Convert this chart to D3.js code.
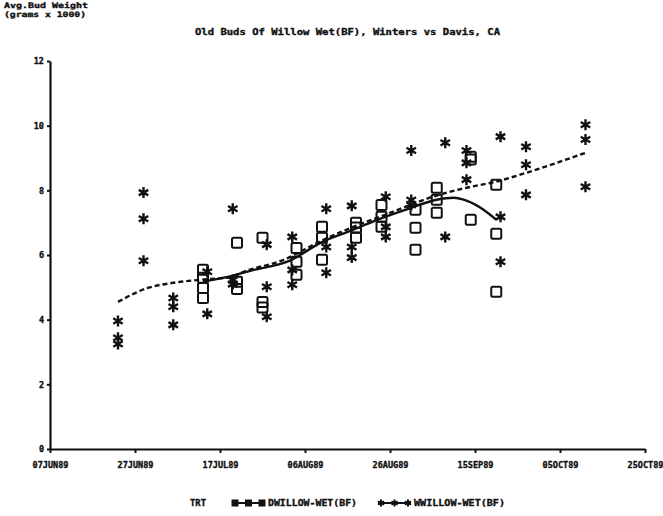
<!DOCTYPE html>
<html>
<head>
<meta charset="utf-8">
<script src="https://cdn.jsdelivr.net/npm/d3@7"></script>
<style>
  body { margin: 0; background: #fff; }
  text { font-family: "DejaVu Sans Mono", monospace; font-weight: bold; fill: #111; stroke: #111; stroke-width: 0.35; }
</style>
</head>
<body>
<svg id="chart" width="663" height="516"></svg>
<script>
// Tick labels
const xTickLabels = ["07JUN89", "27JUN89", "17JUL89", "06AUG89", "26AUG89", "15SEP89", "05OCT89", "25OCT89"];
const yTicks = [0, 2, 4, 6, 8, 10, 12];

// Davis observations (squares)
const davisDates = [
  "1989-07-13", "1989-07-13", "1989-07-13", "1989-07-13",
  "1989-07-21", "1989-07-21", "1989-07-21",
  "1989-07-27", "1989-07-27", "1989-07-27",
  "1989-08-04", "1989-08-04", "1989-08-04",
  "1989-08-10", "1989-08-10", "1989-08-10",
  "1989-08-18", "1989-08-18", "1989-08-18",
  "1989-08-24", "1989-08-24", "1989-08-24",
  "1989-09-01", "1989-09-01", "1989-09-01",
  "1989-09-06", "1989-09-06", "1989-09-06",
  "1989-09-14", "1989-09-14", "1989-09-14",
  "1989-09-20", "1989-09-20", "1989-09-20"
];
const davisWeights = [
  5.54, 5.30, 4.98, 4.67,
  6.38, 5.17, 4.95,
  6.53, 4.55, 4.38,
  6.22, 5.79, 5.39,
  6.87, 6.53, 5.85,
  7.00, 6.85, 6.53,
  7.55, 7.18, 6.87,
  7.40, 6.84, 6.16,
  8.08, 7.71, 7.31,
  9.04, 8.95, 7.09,
  8.17, 6.66, 4.86
];

// Winters observations (stars)
const wintersDates = [
  "1989-06-23", "1989-06-23", "1989-06-23",
  "1989-06-29", "1989-06-29", "1989-06-29",
  "1989-07-06", "1989-07-06", "1989-07-06",
  "1989-07-14", "1989-07-14",
  "1989-07-20", "1989-07-20", "1989-07-20",
  "1989-07-28", "1989-07-28", "1989-07-28",
  "1989-08-03", "1989-08-03", "1989-08-03",
  "1989-08-11", "1989-08-11", "1989-08-11",
  "1989-08-17", "1989-08-17", "1989-08-17",
  "1989-08-25", "1989-08-25", "1989-08-25",
  "1989-08-31", "1989-08-31", "1989-08-31",
  "1989-09-08", "1989-09-08",
  "1989-09-13", "1989-09-13", "1989-09-13",
  "1989-09-21", "1989-09-21", "1989-09-21",
  "1989-09-27", "1989-09-27", "1989-09-27",
  "1989-10-11", "1989-10-11", "1989-10-11"
];
const wintersWeights = [
  3.96, 3.44, 3.25,
  7.93, 7.12, 5.82,
  4.67, 4.40, 3.84,
  5.48, 4.18,
  7.43, 5.23, 5.10,
  6.32, 5.02, 4.09,
  6.56, 5.54, 5.08,
  7.43, 6.25, 5.45,
  7.52, 6.25, 5.92,
  7.80, 6.87, 6.56,
  9.23, 7.70, 7.55,
  9.47, 6.56,
  9.23, 8.85, 8.33,
  9.66, 7.18, 5.79,
  9.35, 8.79, 7.86,
  10.03, 9.57, 8.11
];

// Smoothed curves
const davisFitDates = ["1989-07-13", "1989-07-18", "1989-07-25", "1989-08-02", "1989-08-10", "1989-08-17",
  "1989-08-23", "1989-08-31", "1989-09-06", "1989-09-10", "1989-09-13", "1989-09-17", "1989-09-20"];
const davisFit = [5.18, 5.30, 5.54, 5.80, 6.40, 6.76, 7.09, 7.46, 7.71, 7.77, 7.68, 7.40, 7.09];
const wintersFitDates = ["1989-06-23", "1989-06-30", "1989-07-06", "1989-07-12", "1989-07-20", "1989-07-22",
  "1989-08-01", "1989-08-10", "1989-08-17", "1989-08-24", "1989-09-06", "1989-09-13", "1989-09-20",
  "1989-09-27", "1989-10-11"];
const wintersFit = [4.55, 4.98, 5.14, 5.23, 5.33, 5.45, 5.85, 6.45, 6.85, 7.20, 7.84, 8.08, 8.27, 8.54, 9.16];

const parse = d3.timeParse("%Y-%m-%d");
const parseTick = d3.timeParse("%d%b%y");

const svg = d3.select("#chart");

const x = d3.scaleTime()
    .domain([parse("1989-06-07"), parse("1989-10-25")])
    .range([50, 645]);

const y = d3.scaleLinear()
    .domain([0, 12])
    .range([449, 61]);

// Titles
svg.append("text").attr("x", 4).attr("y", 8)
    .attr("font-size", 7.5).attr("textLength", 84).attr("lengthAdjust", "spacingAndGlyphs")
    .text("Avg.Bud Weight");
svg.append("text").attr("x", 4).attr("y", 17)
    .attr("font-size", 7.5).attr("textLength", 82).attr("lengthAdjust", "spacingAndGlyphs")
    .text("(grams x 1000)");
svg.append("text").attr("x", 195).attr("y", 35)
    .attr("font-size", 8.5).attr("textLength", 305).attr("lengthAdjust", "spacingAndGlyphs")
    .text("Old Buds Of Willow Wet(BF), Winters vs Davis, CA");

// Axes
const xAxis = svg.append("g")
    .attr("transform", `translate(0,${y(0)})`)
    .call(d3.axisBottom(x)
        .tickValues(xTickLabels.map(parseTick))
        .tickFormat((d, i) => xTickLabels[i])
        .tickSizeInner(4).tickSizeOuter(0));
xAxis.select(".domain").attr("stroke", "#111").attr("stroke-width", 2.2);
xAxis.selectAll(".tick line").attr("stroke", "#111").attr("stroke-width", 2);
xAxis.selectAll(".tick text")
    .attr("y", 13)
    .attr("font-size", 8.5).attr("font-family", null)
    .attr("textLength", 36).attr("lengthAdjust", "spacingAndGlyphs");

const yAxis = svg.append("g")
    .attr("transform", `translate(${x.range()[0]},0)`)
    .call(d3.axisLeft(y).tickValues(yTicks).tickSizeInner(3).tickSizeOuter(0));
yAxis.select(".domain").attr("stroke", "#111").attr("stroke-width", 2.2);
yAxis.selectAll(".tick line").attr("stroke", "#111").attr("stroke-width", 2);
yAxis.selectAll(".tick text")
    .attr("x", -6)
    .attr("font-size", 8.5).attr("font-family", null);

// Smooth curves
const line = d3.line()
    .x(d => x(d[0]))
    .y(d => y(d[1]))
    .curve(d3.curveMonotoneX);

svg.append("path")
    .datum(davisFitDates.map((d, i) => [parse(d), davisFit[i]]))
    .attr("fill", "none").attr("stroke", "#111").attr("stroke-width", 2.4)
    .attr("d", line);

svg.append("path")
    .datum(wintersFitDates.map((d, i) => [parse(d), wintersFit[i]]))
    .attr("fill", "none").attr("stroke", "#111").attr("stroke-width", 2.4)
    .attr("stroke-dasharray", "5,3")
    .attr("d", line);

// Star marker path (6 arms)
function starPath(r) {
    let p = "";
    [90, 30, 150].forEach(a => {
        const dx = r * Math.cos(a * Math.PI / 180), dy = r * Math.sin(a * Math.PI / 180);
        p += `M${-dx},${-dy}L${dx},${dy}`;
    });
    return p;
}

// Squares (Davis)
svg.append("g").selectAll("rect")
    .data(davisDates.map((d, i) => [parse(d), davisWeights[i]]))
    .join("rect")
    .attr("x", d => x(d[0]) - 5)
    .attr("y", d => y(d[1]) - 5)
    .attr("width", 10).attr("height", 10).attr("rx", 1.5)
    .attr("fill", "none").attr("stroke", "#111").attr("stroke-width", 2);

// Stars (Winters)
svg.append("g").selectAll("path")
    .data(wintersDates.map((d, i) => [parse(d), wintersWeights[i]]))
    .join("path")
    .attr("transform", d => `translate(${x(d[0])},${y(d[1])})`)
    .attr("d", starPath(5.5))
    .attr("stroke", "#111").attr("stroke-width", 2.4);

// Legend
const legY = 503;
svg.append("text").attr("x", 190).attr("y", legY + 3)
    .attr("font-size", 8.5).attr("textLength", 16).attr("lengthAdjust", "spacingAndGlyphs")
    .text("TRT");

const leg1 = svg.append("g");
leg1.append("line").attr("x1", 232).attr("x2", 265).attr("y1", legY).attr("y2", legY)
    .attr("stroke", "#111").attr("stroke-width", 2);
[235, 248.5, 262].forEach(cx => {
    leg1.append("rect").attr("x", cx - 3.5).attr("y", legY - 3.5).attr("width", 7).attr("height", 7)
        .attr("fill", "#111");
});
svg.append("text").attr("x", 268).attr("y", legY + 3)
    .attr("font-size", 8.5).attr("textLength", 89).attr("lengthAdjust", "spacingAndGlyphs")
    .text("DWILLOW-WET(BF)");

const leg2 = svg.append("g");
leg2.append("line").attr("x1", 378).attr("x2", 411).attr("y1", legY).attr("y2", legY)
    .attr("stroke", "#111").attr("stroke-width", 2);
[381, 394.5, 408].forEach(cx => {
    leg2.append("path").attr("transform", `translate(${cx},${legY})`)
        .attr("d", starPath(3.5)).attr("stroke", "#111").attr("stroke-width", 2);
});
svg.append("text").attr("x", 414).attr("y", legY + 3)
    .attr("font-size", 8.5).attr("textLength", 91).attr("lengthAdjust", "spacingAndGlyphs")
    .text("WWILLOW-WET(BF)");
</script>
</body>
</html>
